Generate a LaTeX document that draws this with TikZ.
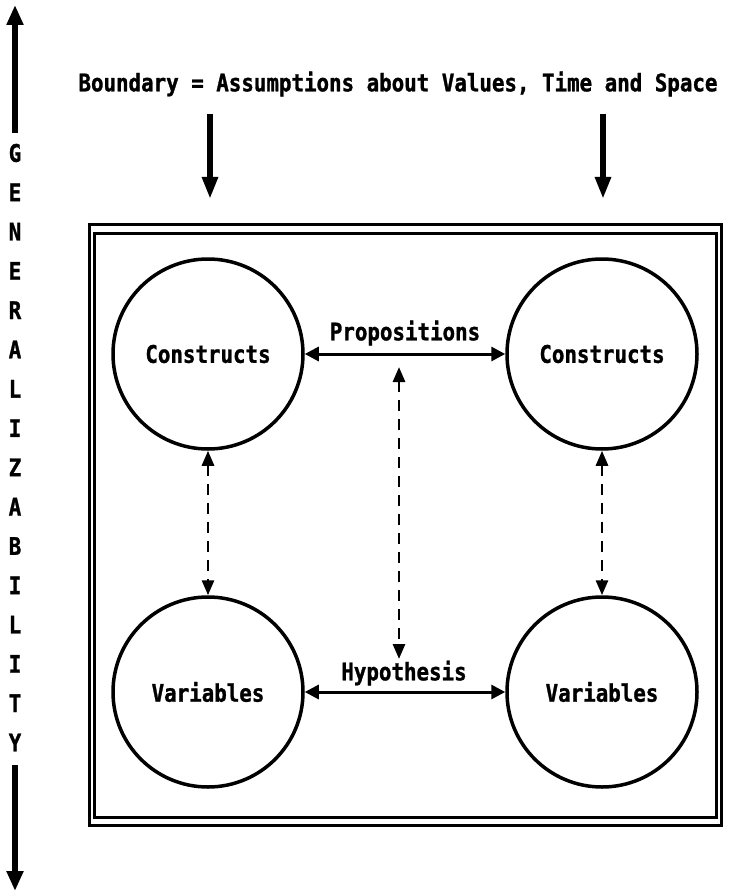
\documentclass[tikz,border=0pt]{standalone}
\usepackage{fontspec}
\newfontfamily\dm{DejaVu Sans Mono}[FakeStretch=0.86,FakeBold=1.2]
\usetikzlibrary{arrows.meta}
\tikzset{
  txt/.style={font=\dm\bfseries\fontsize{24.2}{26}\selectfont, inner sep=0pt},
  letter/.style={font=\dm\bfseries\fontsize{24.2}{26}\selectfont, inner sep=0pt},
  circ/.style={draw, circle, line width=3.5pt, minimum size=190pt, inner sep=0pt,
               font=\dm\bfseries\fontsize{24.2}{26}\selectfont},
  solidarrow/.style={line width=3pt, {Triangle[length=14pt,width=14pt]}-{Triangle[length=14pt,width=14pt]}},
  dasharrow/.style={line width=2.8pt, dash pattern=on 11pt off 8pt,
     {Triangle[length=15pt,width=12pt]}-{Triangle[length=15pt,width=12pt]}},
  downarrow/.style={line width=5.5pt, -{Triangle[length=22pt,width=15pt]}},
  sidearrow/.style={line width=6.5pt, -{Triangle[length=20pt,width=16pt]}},
  frame/.style={line width=3pt}
}
\begin{document}
\begin{tikzpicture}[x=1pt,y=-1pt]
\useasboundingbox (0,0) rectangle (728,896);
% title
\node[txt] (title) at (398,84) {Boundary = Assumptions about Values, Time and Space};
% boundary arrows
\coordinate (ta1) at (210,114);
\coordinate (tb1) at (210,199);
\coordinate (ta2) at (603,114);
\coordinate (tb2) at (603,199);
\draw[downarrow] (ta1) -- (tb1);
\draw[downarrow] (ta2) -- (tb2);
% frame
\draw[frame] (89,224) rectangle (721,825);
\draw[frame] (94,233) rectangle (716,817);
% circles
\node[circ] (c1) at (208,354) {Constructs};
\node[circ] (c2) at (602,354) {Constructs};
\node[circ] (v1) at (208,692) {Variables};
\node[circ] (v2) at (602,692) {Variables};
% horizontal arrows
\draw[solidarrow] (c1) -- (c2);
\draw[solidarrow] (v1) -- (v2);
\node[txt] (prop) at (405,333) {Propositions};
\node[txt] (hyp) at (404,673) {Hypothesis};
% dashed arrows
\draw[dasharrow] (c1) -- (v1);
\draw[dasharrow] (c2) -- (v2);
\coordinate (m1) at (399,367);
\coordinate (m2) at (399,659);
\draw[dasharrow] (m1) -- (m2);
% generalizability axis
\coordinate (la) at (15,133);
\coordinate (lb) at (15,5);
\coordinate (lc) at (15,765);
\coordinate (ld) at (15,891);
\draw[sidearrow] (la) -- (lb);
\draw[sidearrow] (lc) -- (ld);
\foreach \ch [count=\i from 0] in {G,E,N,E,R,A,L,I,Z,A,B,I,L,I,T,Y}{
  \node[letter] (g\i) at (15,{153+\i*39.3}) {\ch};
}
\end{tikzpicture}
\end{document}
